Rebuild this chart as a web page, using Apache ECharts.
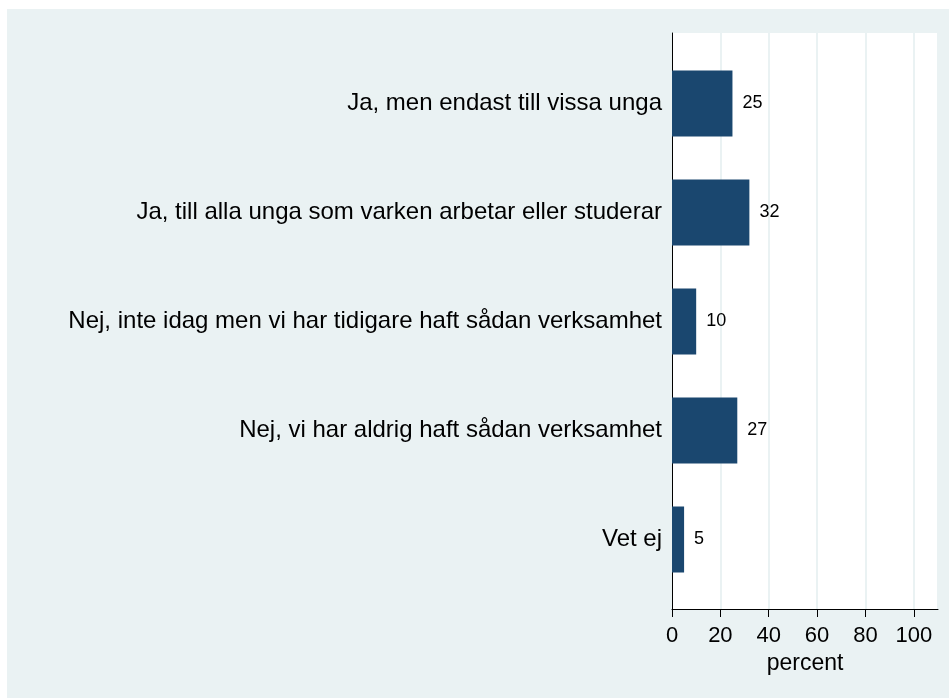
<!DOCTYPE html>
<html>
<head>
<meta charset="utf-8">
<script src="https://cdn.jsdelivr.net/npm/echarts@6/dist/echarts.min.js"></script>
<style>
  html, body { margin: 0; padding: 0; background: #fff; }
  #chart { width: 949px; height: 698px; }
</style>
</head>
<body>
<div id="chart"></div>
<script>
var categories = [
  "Ja, men endast till vissa unga",
  "Ja, till alla unga som varken arbetar eller studerar",
  "Nej, inte idag men vi har tidigare haft sådan verksamhet",
  "Nej, vi har aldrig haft sådan verksamhet",
  "Vet ej"
];
var percents = [25, 32, 10, 27, 5];
var xTicks = [0, 20, 40, 60, 80, 100];

var font = "Liberation Sans, Arial, sans-serif";
var myChart = echarts.init(document.getElementById("chart"));

var option = {
  animation: false,
  backgroundColor: "#fff",
  graphic: [{
    type: "rect",
    z: -10,
    shape: { x: 7, y: 9, width: 942, height: 689 },
    style: { fill: "#eaf2f3" }
  }],
  grid: [
    // background grid: white plot area, x axis, left axis line
    { left: 672, top: 33, right: 11, bottom: 89, show: true,
      backgroundColor: "#fff", borderWidth: 0 },
    // bars grid: category bands
    { left: 672, top: 49, right: 11, bottom: 104 }
  ],
  xAxis: [
    {
      gridIndex: 0, type: "value", min: 0, max: 110, interval: 20,
      axisLine: { show: true, lineStyle: { color: "#000", width: 1 } },
      axisTick: { show: true, length: 8, lineStyle: { color: "#000" } },
      axisLabel: {
        fontFamily: font, fontSize: 22, color: "#000", margin: 16,
        showMaxLabel: false,
        formatter: function (v) { return xTicks.indexOf(v) >= 0 ? v : ""; }
      },
      splitLine: { show: true, lineStyle: { color: "#eaf2f3", width: 2 } },
      name: "percent", nameLocation: "middle", nameGap: 41,
      nameTextStyle: { fontFamily: font, fontSize: 23, color: "#000" }
    },
    { gridIndex: 1, type: "value", min: 0, max: 110, show: false }
  ],
  yAxis: [
    {
      gridIndex: 0, type: "value", min: 0, max: 1,
      axisLine: { show: true, lineStyle: { color: "#000", width: 1 } },
      axisTick: { show: false }, axisLabel: { show: false },
      splitLine: { show: false }
    },
    {
      gridIndex: 1, type: "category", inverse: true, data: categories,
      axisLine: { show: false }, axisTick: { show: false },
      axisLabel: { fontFamily: font, fontSize: 24, color: "#000", margin: 10 }
    }
  ],
  series: [{
    type: "bar",
    xAxisIndex: 1, yAxisIndex: 1,
    data: percents,
    barWidth: 66,
    itemStyle: { color: "#1a476f" },
    label: {
      show: true, position: "right", distance: 10,
      fontFamily: font, fontSize: 18, color: "#000"
    }
  }]
};

myChart.setOption(option);
</script>
</body>
</html>
